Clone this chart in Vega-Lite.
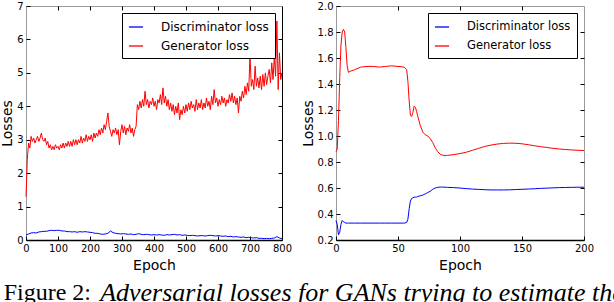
{
  "$schema": "https://vega.github.io/schema/vega-lite/v6.json",
  "padding": {"left": 0, "top": 0, "right": 0, "bottom": 0},
  "background": "white",
  "spacing": 7,
  "resolve": {"scale": {"color": "independent"}, "legend": {"color": "independent"}},
  "title": {"text": "Adversarial losses for GANs trying to estimate the", "orient": "bottom", "anchor": "start", "frame": "bounds", "font": "Liberation Serif", "fontSize": 26, "fontStyle": "italic", "fontWeight": "normal", "color": "black", "dx": 100, "dy": -26, "offset": 0},
  "config": {
    "view": {"stroke": "#999999", "strokeWidth": 1},
    "axis": {"grid": false, "labelFont": "DejaVu Sans", "labelFontSize": 10, "labelColor": "black", "titleFont": "DejaVu Sans", "titleFontSize": 14, "titleFontWeight": "normal", "titleColor": "black", "tickColor": "black", "tickSize": -4, "tickWidth": 1, "labelPadding": 7, "labelFlush": false, "labelOverlap": false, "domain": false},
    "legend": {"orient": "top-right", "offset": 7, "symbolType": "stroke", "symbolSize": 200, "symbolStrokeWidth": 1.3, "labelFont": "DejaVu Sans", "labelFontSize": 12, "labelColor": "black", "labelOffset": 17, "padding": 6, "rowPadding": 5, "strokeColor": "black", "fillColor": "white", "cornerRadius": 0, "labelLimit": 0}
  },
  "datasets": {
    "left": [
{"e":0,"g":1.3,"d":0.15},{"e":4,"g":2.4},{"e":8,"g":2.9,"d":0.18},{"e":12,"g":2.75},{"e":16,"g":3.1,"d":0.21},{"e":20,"g":2.95},{"e":24,"g":3.05,"d":0.22},{"e":28,"g":2.9},{"e":32,"g":3.0,"d":0.21},{"e":36,"g":3.1},{"e":40,"g":2.95,"d":0.24},{"e":44,"g":3.05},{"e":48,"g":3.2,"d":0.25},{"e":52,"g":3.0},{"e":56,"g":2.95,"d":0.26},{"e":60,"g":3.05},{"e":64,"g":2.85,"d":0.26},{"e":68,"g":2.95},{"e":72,"g":2.75,"d":0.28},{"e":76,"g":2.85},{"e":80,"g":2.7,"d":0.29},{"e":84,"g":2.8},{"e":88,"g":2.7,"d":0.28},{"e":92,"g":2.85},{"e":96,"g":2.75,"d":0.29},{"e":100,"g":2.8},{"e":104,"g":2.7,"d":0.29},{"e":108,"g":2.85},{"e":112,"g":2.75,"d":0.27},{"e":116,"g":2.9},{"e":120,"g":2.75,"d":0.27},{"e":124,"g":2.9},{"e":128,"g":2.8,"d":0.25},{"e":132,"g":2.95},{"e":136,"g":2.8,"d":0.25},{"e":140,"g":2.95},{"e":144,"g":2.8,"d":0.24},{"e":148,"g":3.0},{"e":152,"g":2.85,"d":0.25},{"e":156,"g":3.0},{"e":160,"g":2.85,"d":0.23},{"e":164,"g":3.0},{"e":168,"g":2.9,"d":0.25},{"e":172,"g":3.1},{"e":176,"g":2.9,"d":0.24},{"e":180,"g":3.05},{"e":184,"g":2.95,"d":0.25},{"e":188,"g":3.15},{"e":192,"g":2.95,"d":0.24},{"e":196,"g":3.1},{"e":200,"g":3.0,"d":0.23},{"e":204,"g":3.15},{"e":208,"g":2.95,"d":0.22},{"e":212,"g":3.2},{"e":216,"g":3.05,"d":0.2},{"e":220,"g":3.2},{"e":224,"g":3.1,"d":0.2},{"e":228,"g":3.3},{"e":232,"g":3.15,"d":0.18},{"e":236,"g":3.35},{"e":240,"g":3.2,"d":0.17},{"e":244,"g":3.45},{"e":248,"g":3.3,"d":0.18},{"e":252,"g":3.55},{"e":256,"g":3.8,"d":0.2},{"e":260,"g":3.4},{"e":264,"g":3.25,"d":0.27},{"e":268,"g":3.1},{"e":272,"g":3.3,"d":0.22},{"e":276,"g":3.2},{"e":280,"g":3.35,"d":0.2},{"e":284,"g":3.15},{"e":288,"g":3.3,"d":0.19},{"e":292,"g":2.85},{"e":296,"g":3.25,"d":0.18},{"e":300,"g":3.45},{"e":304,"g":3.2,"d":0.19},{"e":308,"g":3.4},{"e":312,"g":3.15,"d":0.18},{"e":316,"g":3.35},{"e":320,"g":3.25,"d":0.17},{"e":324,"g":3.45},{"e":328,"g":3.2,"d":0.18},{"e":332,"g":3.35},{"e":336,"g":3.1,"d":0.16},{"e":340,"g":3.3},{"e":344,"g":3.4,"d":0.17},{"e":348,"g":4.05},{"e":352,"g":3.9,"d":0.19},{"e":356,"g":4.15},{"e":360,"g":3.95,"d":0.17},{"e":364,"g":4.2},{"e":368,"g":4.0,"d":0.16},{"e":372,"g":4.45},{"e":376,"g":4.05,"d":0.17},{"e":380,"g":4.2},{"e":384,"g":3.95,"d":0.16},{"e":388,"g":4.15},{"e":392,"g":4.05,"d":0.15},{"e":396,"g":4.25},{"e":400,"g":4.0,"d":0.16},{"e":404,"g":4.15},{"e":408,"g":3.9,"d":0.15},{"e":412,"g":4.2},{"e":416,"g":4.1,"d":0.16},{"e":420,"g":4.35},{"e":424,"g":4.05,"d":0.15},{"e":428,"g":4.55},{"e":432,"g":4.1,"d":0.14},{"e":436,"g":4.3},{"e":440,"g":4.0,"d":0.16},{"e":444,"g":4.2},{"e":448,"g":3.9,"d":0.15},{"e":452,"g":4.1},{"e":456,"g":3.85,"d":0.16},{"e":460,"g":4.05},{"e":464,"g":3.75,"d":0.17},{"e":468,"g":4.0},{"e":472,"g":3.8,"d":0.15},{"e":476,"g":4.1},{"e":480,"g":3.6,"d":0.16},{"e":484,"g":3.9},{"e":488,"g":3.75,"d":0.14},{"e":492,"g":4.0},{"e":496,"g":3.8,"d":0.15},{"e":500,"g":4.05},{"e":504,"g":3.85,"d":0.14},{"e":508,"g":4.1},{"e":512,"g":3.9,"d":0.13},{"e":516,"g":4.15},{"e":520,"g":3.95,"d":0.14},{"e":524,"g":4.05},{"e":528,"g":3.85,"d":0.13},{"e":532,"g":4.2},{"e":536,"g":3.9,"d":0.12},{"e":540,"g":4.1},{"e":544,"g":3.95,"d":0.13},{"e":548,"g":4.2},{"e":552,"g":3.9,"d":0.13},{"e":556,"g":4.1},{"e":560,"g":3.95,"d":0.12},{"e":564,"g":4.25},{"e":568,"g":4.0,"d":0.13},{"e":572,"g":4.15},{"e":576,"g":3.9,"d":0.14},{"e":580,"g":4.3},{"e":584,"g":4.05,"d":0.13},{"e":588,"g":4.5},{"e":592,"g":4.1,"d":0.12},{"e":596,"g":4.25},{"e":600,"g":4.0,"d":0.13},{"e":604,"g":4.2},{"e":608,"g":4.05,"d":0.12},{"e":612,"g":4.3},{"e":616,"g":4.1,"d":0.11},{"e":620,"g":4.25},{"e":624,"g":4.0,"d":0.12},{"e":628,"g":4.2},{"e":632,"g":4.1,"d":0.1},{"e":636,"g":4.35},{"e":640,"g":4.15,"d":0.11},{"e":644,"g":4.4},{"e":648,"g":4.1,"d":0.09},{"e":652,"g":4.3},{"e":656,"g":4.05,"d":0.1},{"e":660,"g":4.25},{"e":664,"g":3.8,"d":0.09},{"e":668,"g":4.3},{"e":672,"g":4.15,"d":0.08},{"e":676,"g":4.45},{"e":680,"g":4.25,"d":0.09},{"e":684,"g":4.6},{"e":688,"g":4.35,"d":0.07},{"e":692,"g":4.7},{"e":696,"g":4.45,"d":0.08},{"e":700,"g":5.55},{"e":704,"g":4.6,"d":0.07},{"e":708,"g":4.8},{"e":712,"g":4.5,"d":0.06},{"e":716,"g":5.2},{"e":720,"g":4.6,"d":0.07},{"e":724,"g":4.85},{"e":728,"g":4.55,"d":0.05},{"e":732,"g":4.9},{"e":736,"g":4.5,"d":0.05},{"e":740,"g":4.95},{"e":744,"g":4.6,"d":0.04},{"e":748,"g":5.0},{"e":752,"g":4.65,"d":0.05},{"e":756,"g":4.9},{"e":760,"g":5.1,"d":0.04},{"e":764,"g":4.7},{"e":768,"g":5.3,"d":0.05},{"e":772,"g":4.8},{"e":776,"g":5.5,"d":0.06},{"e":780,"g":4.9},{"e":784,"g":6.55,"d":0.1},{"e":788,"g":4.5},{"e":792,"g":5.6,"d":0.06},{"e":796,"g":4.8},{"e":800,"g":5.0,"d":0.04}
    ],
    "right": [
{"e":0,"g":0.88,"d":0.35},{"e":1,"g":0.9,"d":0.32},{"e":2,"g":1.12,"d":0.24},{"e":3,"g":1.45,"d":0.26},{"e":4,"g":1.7,"d":0.32},{"e":5,"g":1.8,"d":0.35},{"e":6,"g":1.82,"d":0.34},{"e":7,"g":1.8,"d":0.335},{"e":8,"g":1.68,"d":0.33},{"e":9,"g":1.54,"d":0.33},{"e":10,"g":1.49,"d":0.33},{"e":12,"g":1.5,"d":0.33},{"e":15,"g":1.51,"d":0.33},{"e":20,"g":1.53,"d":0.33},{"e":25,"g":1.535,"d":0.33},{"e":30,"g":1.535,"d":0.33},{"e":35,"g":1.53,"d":0.33},{"e":40,"g":1.535,"d":0.33},{"e":45,"g":1.54,"d":0.33},{"e":50,"g":1.535,"d":0.33},{"e":55,"g":1.53,"d":0.33},{"e":57,"g":1.51,"d":0.335},{"e":58,"g":1.42,"d":0.36},{"e":59,"g":1.27,"d":0.44},{"e":60,"g":1.16,"d":0.5},{"e":61,"g":1.15,"d":0.52},{"e":62,"g":1.18,"d":0.525},{"e":63,"g":1.23,"d":0.53},{"e":64,"g":1.22,"d":0.53},{"e":65,"g":1.19,"d":0.53},{"e":66,"g":1.15,"d":0.535},{"e":68,"g":1.08,"d":0.54},{"e":70,"g":1.03,"d":0.545},{"e":72,"g":1.01,"d":0.555},{"e":74,"g":1.0,"d":0.565},{"e":76,"g":0.98,"d":0.575},{"e":78,"g":0.95,"d":0.59},{"e":80,"g":0.91,"d":0.6},{"e":82,"g":0.88,"d":0.605},{"e":84,"g":0.86,"d":0.607},{"e":86,"g":0.852,"d":0.607},{"e":88,"g":0.85,"d":0.606},{"e":90,"g":0.851,"d":0.605},{"e":95,"g":0.857,"d":0.603},{"e":100,"g":0.865,"d":0.6},{"e":105,"g":0.875,"d":0.595},{"e":110,"g":0.89,"d":0.592},{"e":115,"g":0.905,"d":0.589},{"e":120,"g":0.92,"d":0.587},{"e":125,"g":0.93,"d":0.585},{"e":130,"g":0.938,"d":0.585},{"e":135,"g":0.943,"d":0.585},{"e":140,"g":0.945,"d":0.586},{"e":145,"g":0.944,"d":0.588},{"e":150,"g":0.94,"d":0.59},{"e":155,"g":0.933,"d":0.592},{"e":160,"g":0.925,"d":0.594},{"e":165,"g":0.918,"d":0.597},{"e":170,"g":0.912,"d":0.599},{"e":175,"g":0.905,"d":0.601},{"e":180,"g":0.9,"d":0.603},{"e":185,"g":0.896,"d":0.604},{"e":190,"g":0.893,"d":0.605},{"e":195,"g":0.89,"d":0.606},{"e":200,"g":0.888,"d":0.606}
    ]
  },
  "hconcat": [
    {
      "width": 256, "height": 234,
      "data": {"name": "left"},
      "transform": [{"fold": ["d", "g"], "as": ["key", "loss"]}, {"filter": "isValid(datum.loss)"}],
      "title": {"text": "Figure 2:", "orient": "bottom", "anchor": "start", "frame": "bounds", "font": "Liberation Serif", "fontSize": 24, "fontStyle": "normal", "fontWeight": "normal", "color": "black", "dx": 3, "offset": 9},
      "layer": [
        {
          "mark": {"type": "line", "strokeWidth": 1},
          "encoding": {
            "x": {"field": "e", "type": "quantitative", "scale": {"domain": [0, 800], "nice": false, "zero": false}, "axis": {"title": "Epoch", "values": [0,100,200,300,400,500,600,700,800], "domain": true, "domainColor": "black", "domainWidth": 1.5, "titlePadding": 5}},
            "y": {"field": "loss", "type": "quantitative", "scale": {"domain": [0, 7], "nice": false}, "axis": {"title": "Losses", "values": [0,1,2,3,4,5,6,7], "titlePadding": 2}},
            "color": {"field": "key", "type": "nominal", "scale": {"domain": ["d", "g"], "range": ["#0000ff", "#ff0000"]}, "legend": {"title": null, "labelExpr": "datum.value == 'd' ? 'Discriminator loss' : 'Generator loss'"}}
          }
        },
        {
          "mark": {"type": "line", "opacity": 0},
          "encoding": {
            "x": {"field": "e", "type": "quantitative", "scale": {"domain": [0, 800], "nice": false, "zero": false}, "axis": {"orient": "top", "title": null, "labels": false, "values": [100,200,300,400,500,600,700]}},
            "y": {"field": "loss", "type": "quantitative", "scale": {"domain": [0, 7], "nice": false}, "axis": {"orient": "right", "title": null, "labels": false, "values": [1,2,3,4,5,6], "domain": true, "domainColor": "black", "domainWidth": 1}},
            "detail": {"field": "key"}
          }
        }
      ],
      "resolve": {"axis": {"x": "independent", "y": "independent"}}
    },
    {
      "width": 248, "height": 234,
      "data": {"name": "right"},
      "transform": [{"fold": ["d", "g"], "as": ["key", "loss"]}, {"filter": "isValid(datum.loss)"}],
      "layer": [
        {
          "mark": {"type": "line", "strokeWidth": 1},
          "encoding": {
            "x": {"field": "e", "type": "quantitative", "scale": {"domain": [0, 200], "nice": false, "zero": false}, "axis": {"title": "Epoch", "values": [0,50,100,150,200], "domain": true, "domainColor": "black", "domainWidth": 1.5, "titlePadding": 5}},
            "y": {"field": "loss", "type": "quantitative", "scale": {"domain": [0.2, 2.0], "nice": false, "zero": false}, "axis": {"title": "Losses", "values": [0.2,0.4,0.6,0.8,1.0,1.2,1.4,1.6,1.8,2.0], "format": ".1f", "titlePadding": 2}},
            "color": {"field": "key", "type": "nominal", "scale": {"domain": ["d", "g"], "range": ["#0000ff", "#ff0000"]}, "legend": {"title": null, "labelFontSize": 11.5, "labelExpr": "datum.value == 'd' ? 'Discriminator loss' : 'Generator loss'"}}
          }
        },
        {
          "mark": {"type": "line", "opacity": 0},
          "encoding": {
            "x": {"field": "e", "type": "quantitative", "scale": {"domain": [0, 200], "nice": false, "zero": false}, "axis": {"orient": "top", "title": null, "labels": false, "values": [50,100,150]}},
            "y": {"field": "loss", "type": "quantitative", "scale": {"domain": [0.2, 2.0], "nice": false, "zero": false}, "axis": {"orient": "right", "title": null, "labels": false, "values": [0.4,0.6,0.8,1.0,1.2,1.4,1.6,1.8]}},
            "detail": {"field": "key"}
          }
        }
      ],
      "resolve": {"axis": {"x": "independent", "y": "independent"}}
    }
  ]
}
